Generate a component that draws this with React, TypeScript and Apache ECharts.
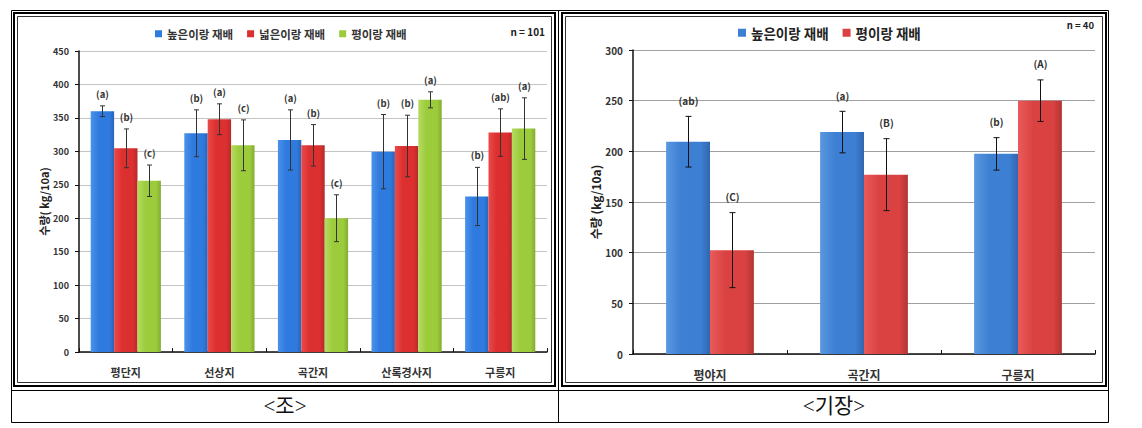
import React, { useEffect, useRef } from "react";
import * as echarts from "echarts";

// ---------- <조> (left chart) ----------
const joCategories = ["평단지", "선상지", "곡간지", "산록경사지", "구릉지"];
const joSeriesNames = ["높은이랑 재배", "넓은이랑 재배", "평이랑 재배"];
const joHighRidge = [360, 327, 317, 299.5, 232.5];
const joHighRidgeErr = [8, 35, 45, 55.5, 43.5];
const joHighRidgeLetters = ["(a)", "(b)", "(a)", "(b)", "(b)"];
const joWideRidge = [304.5, 348, 309, 308, 328];
const joWideRidgeErr = [29, 23, 31, 46, 35.5];
const joWideRidgeLetters = ["(b)", "(a)", "(b)", "(b)", "(ab)"];
const joFlatRidge = [256, 309, 200, 377, 334];
const joFlatRidgeErr = [23.5, 38, 35, 12, 46];
const joFlatRidgeLetters = ["(c)", "(c)", "(c)", "(a)", "(a)"];
const joYMax = 450;
const joN = "n = 101";

// ---------- <기장> (right chart) ----------
const gijangCategories = ["평야지", "곡간지", "구릉지"];
const gijangSeriesNames = ["높은이랑 재배", "평이랑 재배"];
const gijangHighRidge = [209.5, 219, 197.5];
const gijangHighRidgeErr = [25, 20.5, 16];
const gijangHighRidgeLetters = ["(ab)", "(a)", "(b)"];
const gijangFlatRidge = [102.5, 177, 250];
const gijangFlatRidgeErr = [37, 35.5, 20.5];
const gijangFlatRidgeLetters = ["(C)", "(B)", "(A)"];
const gijangYMax = 300;
const gijangN = "n = 40";

const FONT = "'Noto Sans CJK KR', 'Noto Sans', sans-serif";
const SERIF = "'Liberation Serif', 'DejaVu Serif', 'Noto Sans CJK KR', serif";

const hgrad = (edge: string, mid: string, dark: string) => ({
  type: "linear",
  x: 0,
  y: 0,
  x2: 1,
  y2: 0,
  colorStops: [
    { offset: 0, color: edge },
    { offset: 0.35, color: mid },
    { offset: 0.8, color: mid },
    { offset: 1, color: dark },
  ],
});

function errSeries(
  gridIdx: number,
  seriesIdx: number,
  nSeries: number,
  gap: number,
  means: number[],
  errs: number[],
  letters: string[],
  color: string,
  labelOffset: number,
  capHalf: number,
  fontSize: number
) {
  return {
    type: "custom",
    xAxisIndex: gridIdx,
    yAxisIndex: gridIdx,
    z: 5,
    silent: true,
    encode: { x: 0, y: [1, 2] },
    data: means.map((m, i) => [i, m - errs[i], m + errs[i]]),
    renderItem: (params: any, api: any) => {
      const idx = api.value(0);
      const low = api.value(1);
      const high = api.value(2);
      const band = api.size([1, 0])[0];
      const groupW = band * (1 - gap);
      const barW = groupW / nSeries;
      const offset = -groupW / 2 + barW * (seriesIdx + 0.5);
      const pL = api.coord([idx, low]);
      const pH = api.coord([idx, high]);
      const x = Math.round(pL[0] + offset) + 0.5;
      const st = { stroke: color, lineWidth: 1 };
      return {
        type: "group",
        children: [
          { type: "line", shape: { x1: x, y1: pL[1], x2: x, y2: pH[1] }, style: st },
          { type: "line", shape: { x1: x - capHalf, y1: pL[1], x2: x + capHalf, y2: pL[1] }, style: st },
          { type: "line", shape: { x1: x - capHalf, y1: pH[1], x2: x + capHalf, y2: pH[1] }, style: st },
          {
            type: "text",
            style: {
              text: letters[params.dataIndex],
              x: x,
              y: pH[1] - labelOffset,
              align: "center",
              verticalAlign: "middle",
              fontSize,
              fontWeight: "bold",
              fontFamily: FONT,
              fill: "#333",
            },
          },
        ],
      };
    },
  };
}

export default function App() {
  const ref = useRef<HTMLDivElement>(null);

  useEffect(() => {
    if (!ref.current) return;
    const chart = echarts.init(ref.current, undefined, { renderer: "svg" });

    const joGap = 0.25;
    const gjGap = 0.43;

    const joColors = [
      hgrad("#4a92ea", "#2f7ade", "#2a64b8"),
      hgrad("#ea4a4a", "#dc2f2f", "#b52a2a"),
      hgrad("#b4dc60", "#9ccb3c", "#82ad30"),
    ];
    const joSolid = ["#2f7ade", "#dc2f2f", "#9ccb3c"];
    const gjColors = [
      hgrad("#5a98e0", "#3d7fd2", "#3066b0"),
      hgrad("#ea5a5a", "#da4242", "#b43434"),
    ];
    const gjSolid = ["#3d7fd2", "#da4242"];

    const joMeans = [joHighRidge, joWideRidge, joFlatRidge];
    const joErrs = [joHighRidgeErr, joWideRidgeErr, joFlatRidgeErr];
    const joLetters = [joHighRidgeLetters, joWideRidgeLetters, joFlatRidgeLetters];
    const gjMeans = [gijangHighRidge, gijangFlatRidge];
    const gjErrs = [gijangHighRidgeErr, gijangFlatRidgeErr];
    const gjLetters = [gijangHighRidgeLetters, gijangFlatRidgeLetters];

    const series: any[] = [];
    joSeriesNames.forEach((name, i) => {
      series.push({
        type: "bar",
        name,
        xAxisIndex: 0,
        yAxisIndex: 0,
        data: joMeans[i],
        barGap: "0%",
        barCategoryGap: joGap * 100 + "%",
        itemStyle: { color: joColors[i] },
      });
    });
    joSeriesNames.forEach((_, i) => {
      series.push(errSeries(0, i, 3, joGap, joMeans[i], joErrs[i], joLetters[i], "#333", 12, 2.5, 9.5));
    });
    gijangSeriesNames.forEach((name, i) => {
      series.push({
        type: "bar",
        name,
        xAxisIndex: 1,
        yAxisIndex: 1,
        data: gjMeans[i],
        barGap: "0%",
        barCategoryGap: gjGap * 100 + "%",
        itemStyle: { color: gjColors[i] },
      });
    });
    gijangSeriesNames.forEach((_, i) => {
      series.push(errSeries(1, i, 2, gjGap, gjMeans[i], gjErrs[i], gjLetters[i], "#111", 16, 3, 10));
    });

    const yAxisBase = (max: number, fontSize: number, gridColor: string, name: string, nameGap: number, nameSize: number) => ({
      type: "value",
      min: 0,
      max,
      interval: 50,
      name,
      nameLocation: "middle",
      nameGap,
      nameRotate: 90,
      nameTextStyle: { fontFamily: FONT, fontSize: nameSize, fontWeight: "bold", color: "#222" },
      axisLine: { show: true, lineStyle: { color: "#111", width: 1.5 } },
      axisTick: { show: true, inside: false, length: 4, lineStyle: { color: "#111" } },
      axisLabel: { fontFamily: FONT, fontSize, fontWeight: "bold", color: "#333", margin: 10 },
      splitLine: { show: true, lineStyle: { color: gridColor, width: 1 } },
    });

    const xAxisBase = (data: string[], fontSize: number) => ({
      type: "category",
      data,
      axisLine: { show: true, lineStyle: { color: "#111", width: 1.5 } },
      axisTick: { show: true, inside: true, length: 4, lineStyle: { color: "#111" } },
      axisLabel: { fontFamily: FONT, fontSize, fontWeight: "bold", color: "#333", margin: 14 },
    });

    chart.setOption({
      animation: false,
      backgroundColor: "#ffffff",
      grid: [
        { left: 79, top: 51, width: 468, height: 301 },
        { left: 633, top: 50, width: 462, height: 304 },
      ],
      xAxis: [
        { ...xAxisBase(joCategories, 11), gridIndex: 0 },
        { ...xAxisBase(gijangCategories, 12), gridIndex: 1 },
      ],
      yAxis: [
        { ...yAxisBase(joYMax, 9, "#c4c4c4", "수량( kg/10a)", 30, 11), gridIndex: 0 },
        { ...yAxisBase(gijangYMax, 10, "#a0a0a0", "수량 (kg/10a)", 31, 12), gridIndex: 1 },
      ],
      legend: [
        {
          left: 150,
          top: 23,
          itemWidth: 7,
          itemHeight: 7,
          itemGap: 14,
          icon: "rect",
          selectedMode: false,
          textStyle: { fontFamily: FONT, fontSize: 11.5, fontWeight: "bold", color: "#333" },
          data: joSeriesNames.map((n, i) => ({ name: n, itemStyle: { color: joSolid[i] } })),
        },
        {
          left: 733,
          top: 21,
          itemWidth: 8,
          itemHeight: 8,
          itemGap: 14,
          icon: "rect",
          selectedMode: false,
          textStyle: { fontFamily: FONT, fontSize: 13.5, fontWeight: "bold", color: "#222" },
          data: gijangSeriesNames.map((n, i) => ({ name: n, itemStyle: { color: gjSolid[i] } })),
        },
      ],
      graphic: [
        { type: "rect", shape: { x: 11.5, y: 10.5, width: 1097, height: 412 }, style: { fill: "none", stroke: "#000", lineWidth: 1 }, silent: true },
        { type: "line", shape: { x1: 558.5, y1: 10, x2: 558.5, y2: 423 }, style: { stroke: "#000", lineWidth: 1 }, silent: true },
        { type: "line", shape: { x1: 11, y1: 390.5, x2: 1109, y2: 390.5 }, style: { stroke: "#000", lineWidth: 1 }, silent: true },
        { type: "rect", shape: { x: 14, y: 13, width: 541, height: 373 }, style: { fill: "none", stroke: "#000", lineWidth: 2 }, silent: true },
        { type: "rect", shape: { x: 17.5, y: 16.5, width: 534, height: 366 }, style: { fill: "none", stroke: "#333", lineWidth: 1 }, silent: true },
        { type: "rect", shape: { x: 562, y: 13, width: 544, height: 373 }, style: { fill: "none", stroke: "#000", lineWidth: 2 }, silent: true },
        { type: "rect", shape: { x: 565.5, y: 16.5, width: 537, height: 366 }, style: { fill: "none", stroke: "#333", lineWidth: 1 }, silent: true },
        { type: "text", style: { text: joN, x: 545, y: 31, align: "right", verticalAlign: "middle", fontFamily: FONT, fontSize: 10, fontWeight: "bold", fill: "#222" }, silent: true },
        { type: "text", style: { text: gijangN, x: 1094, y: 25, align: "right", verticalAlign: "middle", fontFamily: FONT, fontSize: 9.5, fontWeight: "bold", fill: "#222" }, silent: true },
        { type: "text", style: { text: "<조>", x: 285, y: 406, align: "center", verticalAlign: "middle", fontFamily: SERIF, fontSize: 21, fill: "#111" }, silent: true },
        { type: "text", style: { text: "<기장>", x: 834, y: 406, align: "center", verticalAlign: "middle", fontFamily: SERIF, fontSize: 21, fill: "#111" }, silent: true },
      ],
      series,
    });

    return () => chart.dispose();
  }, []);

  return (
    <div
      ref={ref}
      style={{ position: "absolute", left: 0, top: 0, width: 1142, height: 428, background: "#fff" }}
    />
  );
}
